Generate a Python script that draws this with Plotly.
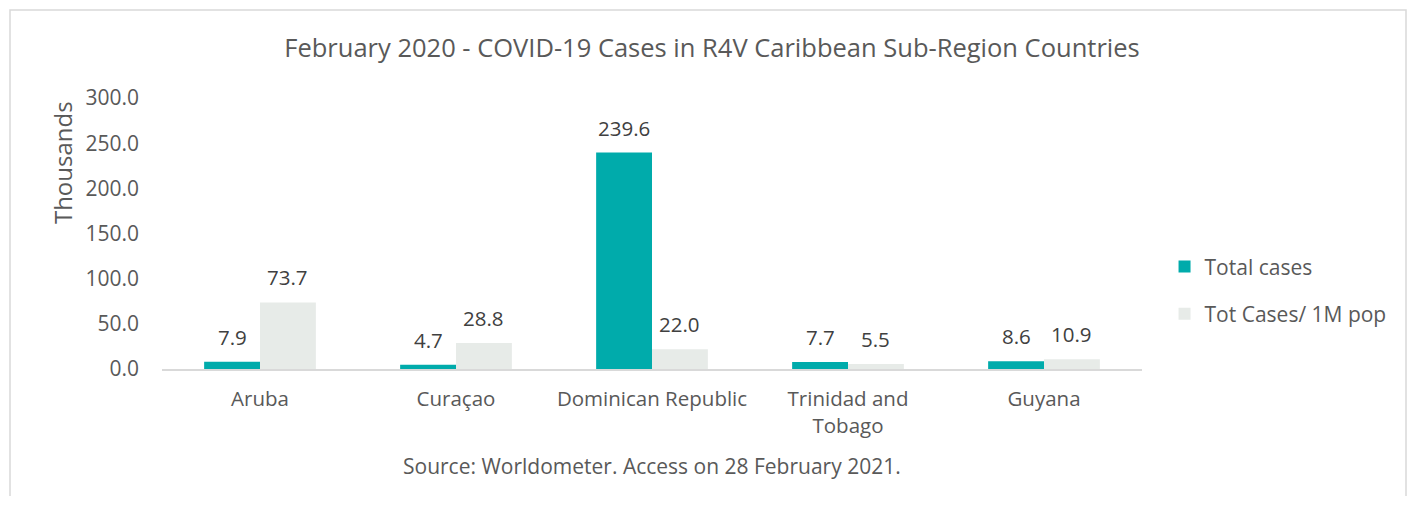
import plotly.graph_objects as go

countries = ["Aruba", "Curaçao", "Dominican Republic", "Trinidad and<br>Tobago", "Guyana"]
total_cases = [7.9, 4.7, 239.6, 7.7, 8.6]
cases_per_1m = [73.7, 28.8, 22.0, 5.5, 10.9]
series_names = ["Total cases", "Tot Cases/ 1M pop"]
colors = ["#00ABAB", "#E7EBE8"]
title_text = "February 2020 - COVID-19 Cases in R4V Caribbean Sub-Region Countries"
source_text = "Source: Worldometer. Access on 28 February 2021."

FONT = "Open Sans"
TXT = "#595959"
bargap = 0.43

W, H = 1400, 488
L, T = 154, 90
PW, PH = 980, 271

fig = go.Figure()
for i, (name, vals) in enumerate(zip(series_names, [total_cases, cases_per_1m])):
    fig.add_trace(go.Bar(
        x=countries, y=vals, name=name, marker=dict(color=colors[i], line=dict(width=0)),
        legendgroup=name,
    ))

bw = (1 - bargap) / 2
annotations = []
for j, vals in enumerate([total_cases, cases_per_1m]):
    off = (j - 0.5) * bw
    for i, v in enumerate(vals):
        annotations.append(dict(
            x=i + off, y=v, xref="x", yref="y", text=f"{v:.1f}", showarrow=False,
            yshift=25, font=dict(size=20.5, color="#404040", family=FONT)))

annotations.append(dict(x=0.5, y=-0.358, xref="paper", yref="paper", text=source_text,
                        showarrow=False, font=dict(size=21, color=TXT, family=FONT),
                        xanchor="center", yanchor="middle"))
annotations.append(dict(x=-0.102, y=0.76, xref="paper", yref="paper", text="Thousands",
                        showarrow=False, textangle=-90, font=dict(size=24, color=TXT, family=FONT),
                        xanchor="center", yanchor="middle"))

fig.update_layout(
    width=W, height=H,
    margin=dict(l=L, r=W - L - PW, t=T, b=H - T - PH),
    paper_bgcolor="white", plot_bgcolor="white",
    font=dict(family=FONT, color=TXT),
    title=dict(text=title_text, x=704 / W, xref="container", xanchor="center",
               y=1 - 40 / H, yanchor="middle", font=dict(size=25.5, color=TXT, family=FONT)),
    barmode="group", bargap=bargap, bargroupgap=0,
    showlegend=True,
    legend=dict(x=1.023, y=0.29, xanchor="left", yanchor="middle", tracegroupgap=17,
                font=dict(size=21, color=TXT, family=FONT), traceorder="grouped"),
    annotations=annotations,
    shapes=[dict(type="rect", xref="paper", yref="paper", x0=(10 - 162) / PW, x1=(1406 - 162) / PW,
                 y0=(369 - 560) / PH, y1=(369 - 10) / PH, line=dict(color="#D9D9D9", width=1.5),
                 fillcolor="rgba(0,0,0,0)", layer="below")],
)
fig.update_xaxes(showline=True, linecolor="#D9D9D9", linewidth=1.5, showgrid=False,
                 tickfont=dict(size=20.5, color=TXT, family=FONT), ticks="", ticklabelstandoff=11)
fig.update_yaxes(range=[0, 300], dtick=50, tickformat=".1f", showgrid=False, showline=False,
                 zeroline=False, tickfont=dict(size=21, color=TXT, family=FONT), ticklabelstandoff=22)

fig.write_html("out.html")
